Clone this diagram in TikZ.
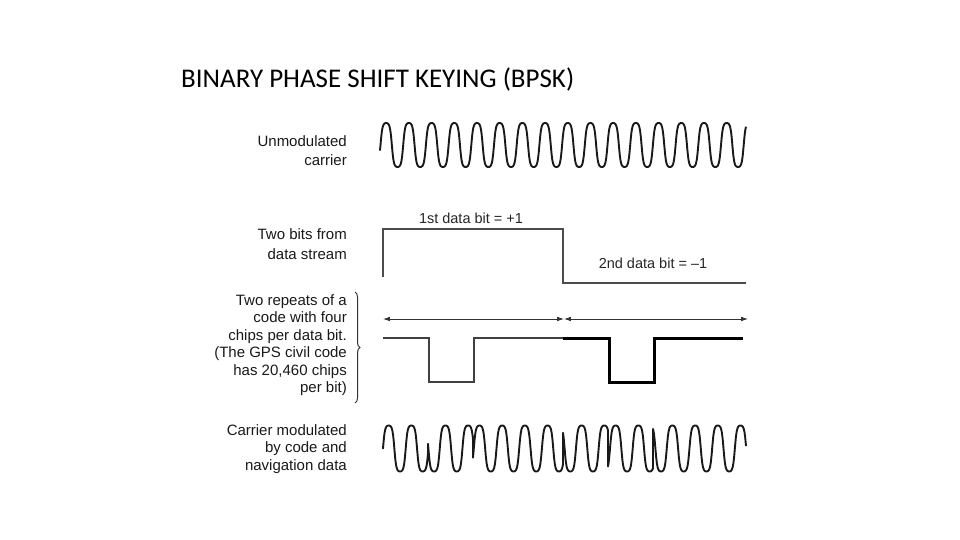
\documentclass[tikz,border=0pt]{standalone}
\usepackage{fontspec}
\setmainfont{Liberation Sans}
\newfontfamily\titlefont{Carlito}
\usetikzlibrary{arrows.meta, positioning, calc, decorations.pathreplacing}

\begin{document}
\begin{tikzpicture}[x=1pt, y=-1pt,
    lbl/.style={font=\fontsize{15}{17.5}\selectfont, text=black!90, align=right,
      anchor=east, inner sep=0pt},
    tag/.style={font=\fontsize{14.5}{17.5}\selectfont, text=black!85, inner sep=0pt},
    wave/.style={line width=1.9pt, black!90, line join=round},
    sig/.style={line width=1.2pt, black!70},
    chipspan/.style={{Latex[length=2.4mm, width=1.6mm]}-{Latex[length=2.4mm, width=1.6mm]},
      line width=0.8pt, black!80},
    chipline/.style={line width=1.4pt, black!75},
    boldchip/.style={line width=3pt, black}]
  \useasboundingbox (0,0) rectangle (960,540);
  \node[anchor=base west, inner sep=0pt, font=\titlefont\fontsize{27}{32}\selectfont]
    (title) at (181,88) {BINARY PHASE SHIFT KEYING (BPSK)};
  % row labels
  \node[lbl, font=\fontsize{15}{19}\selectfont] (carrier) at (347,151) {Unmodulated\\carrier};
  \node[lbl, font=\fontsize{15}{19.5}\selectfont] (bits) at (347,244) {Two bits from\\data stream};
  \node[lbl] (chips) at (347,345) {Two repeats of a\\code with four\\chips per data bit.\\
    (The GPS civil code\\has 20,460 chips\\per bit)};
  \node[lbl] (modul) at (347,449) {Carrier modulated\\by code and\\navigation data};
  \draw[decorate, decoration={brace, amplitude=5pt}, line width=1pt, black!80]
    (355,292) -- (355,403);
  % unmodulated carrier (slightly flattened sine)
  \draw[wave] plot[domain=380:746, samples=700]
    (\x, {145 - 22*tanh(1.8*sin((\x-380.5)/22.7*360))/0.947});
  % data bits
  \coordinate (bitL) at (383,229);
  \coordinate (bitM) at (563,229);
  \coordinate (bitR) at (746,283);
  \draw[sig] (383,277) -- (bitL) -- (bitM) -- (bitM |- bitR) -- (bitR);
  \node[tag] (bitone) at (471,218) {1st data bit = +1};
  \node[tag] (bittwo) at (653,263) {2nd data bit = --1};
  % code chips
  \coordinate (c0) at (383,319);
  \coordinate (c1) at (564,319);
  \coordinate (c2) at (748,319);
  \draw[chipspan] (c0) -- (c1);
  \draw[chipspan] (c1) -- (c2);
  \foreach \s/\w in {383/chipline, 563/boldchip}
    \draw[\w] (\s,338) -| ++(46,44) -| ++(45,-44) -- ++(89,0);
  % modulated carrier
  \draw[wave] (383,448) \foreach \a/\b/\s in {383/428/1, 428/473/-1, 473/563/1,
      563/608/-1, 608/653/1, 653/746/-1} {
    -- plot[domain=\a:\b, samples=120]
      (\x, {448.5 - \s*23*tanh(1.8*sin((\x-383)/22.7*360))/0.947}) };
\end{tikzpicture}
\end{document}
